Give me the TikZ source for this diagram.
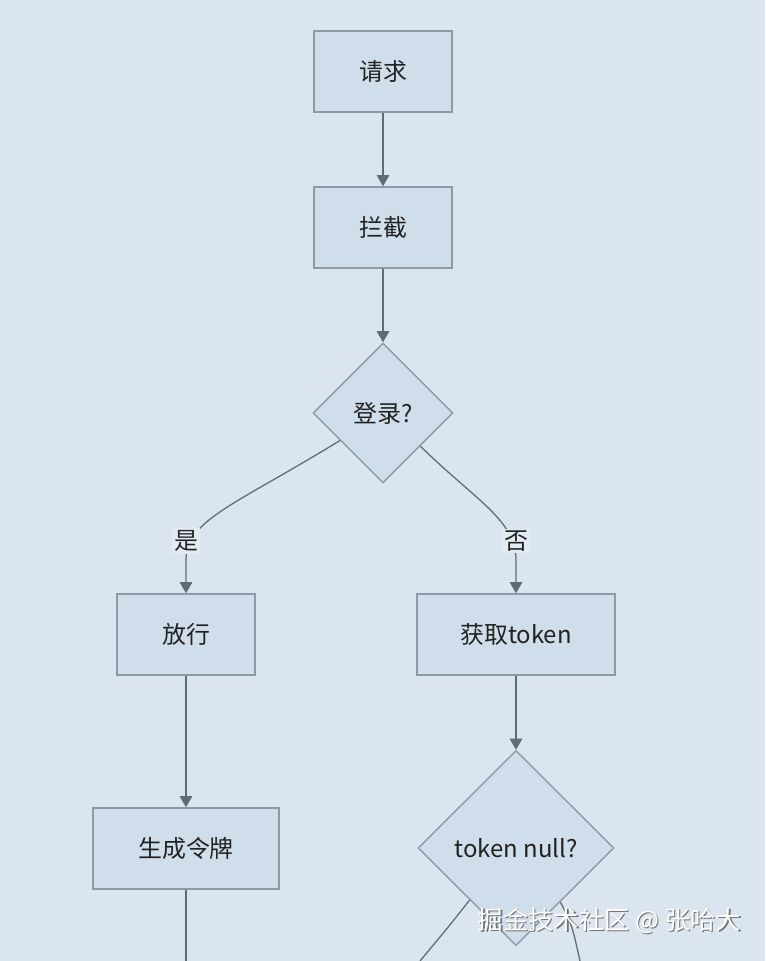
\documentclass[tikz,border=0pt]{standalone}
\usepackage{fontspec}
\setmainfont{Noto Sans CJK SC}
\usepackage{tikz}
\usetikzlibrary{shapes.geometric, arrows.meta, calc}

\definecolor{pagebg}{RGB}{218,229,240}
\definecolor{boxfill}{RGB}{208,222,235}
\definecolor{boxline}{RGB}{140,154,166}
\definecolor{flowline}{RGB}{95,107,120}
\definecolor{lblfill}{RGB}{226,234,242}
\definecolor{txt}{RGB}{34,34,34}

\begin{document}
\begin{tikzpicture}[x=0.025cm, y=-0.025cm, >={Triangle[length=8pt, width=9pt]},
  font=\fontsize{17}{20}\selectfont,
  stepbox/.style={draw=boxline, fill=boxfill, line width=1pt, text=txt,
                  minimum height=2.025cm, inner sep=0pt},
  decide/.style={diamond, draw=boxline, fill=boxfill, line width=1pt, text=txt,
                 inner sep=0pt},
  flow/.style={draw=flowline, line width=0.9pt},
  branch/.style={fill=lblfill, text=txt, inner sep=1.5pt}]

% ---- Page -------------------------------------------------------------
\fill[pagebg] (0,0) rectangle (765,961);
\useasboundingbox (0,0) rectangle (765,961);

% ---- Nodes ------------------------------------------------------------
\node[stepbox, minimum width=3.45cm] (req) at (383,71.5) {请求};
\node[stepbox, minimum width=3.45cm] (intercept) at (383,227.5) {拦截};
\node[decide, minimum width=3.5cm, minimum height=3.5cm] (login) at (383,413) {登录?};
\node[stepbox, minimum width=3.45cm] (pass) at (186,634.5) {放行};
\node[stepbox, minimum width=4.95cm] (gettoken) at (516,634.5) {获取token};
\node[stepbox, minimum width=4.65cm] (maketoken) at (186,848.5) {生成令牌};
\node[decide, minimum width=4.9cm, minimum height=4.875cm] (isnull) at (516,848) {token null?};

% ---- Connectors -------------------------------------------------------
\draw[flow, ->] (req) -- (intercept);
\draw[flow, ->] (intercept) -- (login);
\draw[flow, ->] ($(login.west)!0.39!(login.south)$)
      .. controls (235,505) and (186,520) .. (186,560) -- (pass.north);
\draw[flow, ->] ($(login.east)!0.47!(login.south)$)
      .. controls (475,500) and (516,520) .. (516,560) -- (gettoken.north);
\node[branch] (yes) at (186,541) {是};
\node[branch] (no) at (516,541) {否};
\draw[flow, ->] (pass) -- (maketoken);
\draw[flow, ->] (gettoken) -- (isnull);

% ---- Running off the page ---------------------------------------------
\coordinate (outA) at (186,961);
\coordinate (outB) at (420,961);
\coordinate (outC) at (580,961);
\draw[flow] (maketoken.south) -- (outA);
\draw[flow] ($(isnull.west)!0.53!(isnull.south)$) .. controls (450,925) .. (outB);
\draw[flow] ($(isnull.east)!0.55!(isnull.south)$) .. controls (572,925) .. (outC);

% ---- Watermark --------------------------------------------------------
\node[text=black!55, font=\fontsize{18}{21}\selectfont] (wmshadow) at (610.8,921.8) {掘金技术社区 @ 张哈大};
\node[text=white, font=\fontsize{18}{21}\selectfont] (wm) at (609.5,920.5) {掘金技术社区 @ 张哈大};

\end{tikzpicture}
\end{document}
